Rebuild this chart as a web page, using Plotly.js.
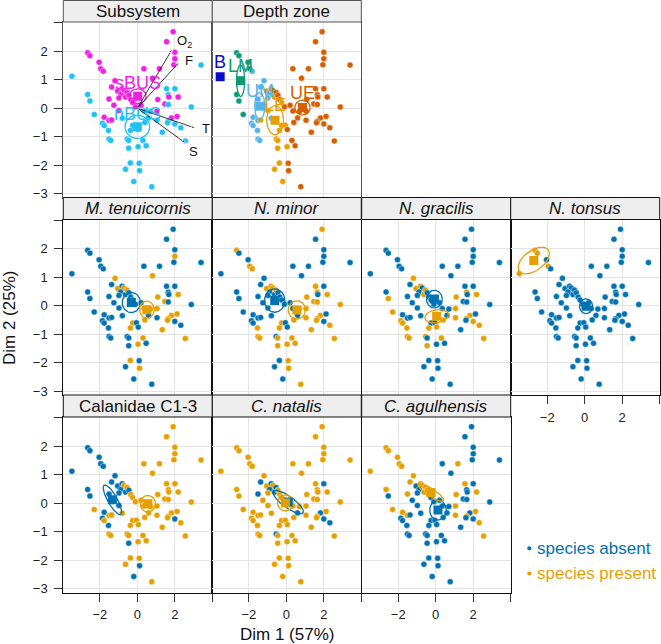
<!DOCTYPE html>
<html>
<head>
<meta charset="utf-8">
<script src="https://cdn.plot.ly/plotly-3.0.1.min.js"></script>
<style>
  html, body { margin: 0; padding: 0; background: #ffffff; }
  #plot { width: 661px; height: 644px; }
</style>
</head>
<body>
<div id="plot"></div>
<script>
// PCA scores of the stations (Dim 1, Dim 2)
const dim1 = [
  1.91, 1.56, 2.00, 2.00, 1.95, 3.40, 0.35, 1.18, 0.81, -2.65,
  -2.53, -2.04, -1.95, -1.82, -3.49, -1.19, -1.37, -1.05, -0.81, -0.72,
  -0.89, -0.63, -2.65, -2.53, -1.51, -0.98, -0.98, -2.30, -1.77, -1.51,
  -1.37, -1.86, -1.77, -1.54, -1.51, -1.42, -0.25, -0.37, -0.54, -0.46,
  -0.46, 0.30, 0.04, 0.47, 0.60, 1.56, 2.00, 1.65, 1.68, 2.18,
  1.09, 1.47, 1.65, 2.88, 1.82, 2.12, 1.65, 1.61, 2.00, 2.32,
  1.33, 2.56, 1.05, -0.37, 0.10, 0.12, -0.63, -0.19, 0.77, -0.55,
  -0.45, -0.35, -0.25, -0.10, 0.20, 0.35, 0.70, 1.05, 0.40, -0.05,
  0.05, -0.80, -1.25
];
const dim2 = [
  2.68, 2.33, 1.96, 1.73, 1.52, 1.51, 1.38, 1.38, 1.05, 1.94,
  1.84, 1.61, 1.38, 1.29, 1.12, 0.96, 0.74, 0.60, 0.68, 0.62,
  0.48, 0.39, 0.48, 0.25, 0.32, 0.36, -0.08, -0.22, -0.32, -0.43,
  -0.41, -0.53, -0.61, -0.78, -1.08, -1.13, -0.61, -0.78, -1.08, -1.13,
  -1.40, -1.13, -1.35, -1.32, -0.34, 0.68, 0.68, 0.47, 0.39, 0.39,
  0.30, 0.15, 0.13, 0.04, -0.34, -0.29, -0.46, -0.51, -0.55, -0.69,
  -0.84, -1.15, -0.42, -1.92, -1.93, -2.19, -2.14, -2.57, -2.75, 0.55,
  0.45, 0.30, 0.20, 0.05, 0.10, -0.10, -0.12, -0.10, -0.50, -0.60,
  -0.75, -0.35, 0.10
];

// Station groupings
const subsystem = [
  's','s','s','s','s','n','s','s','s','s',
  's','s','s','s','n','s','s','s','s','s',
  's','s','n','n','s','s','s','n','s','s',
  's','n','n','n','n','n','n','n','n','n',
  'n','n','n','n','n','n','n','n','s','s',
  's','s','n','n','s','s','n','n','n','n',
  'n','n','n','n','n','n','n','n','n','s',
  's','s','s','s','s','n','n','s','n','n',
  'n','n','s'
];
const depthZone = [
  'UE','UE','UE','UE','UE','UE','UE','UE','UE','LM',
  'LM','LM','LM','UM','B','UM','UM','LE','LE','UE',
  'UM','LE','LM','LM','UM','UM','LE','LM','UM','UM',
  'LE','UM','UM','UM','UM','UM','LE','LE','LE','LE',
  'LE','UE','LE','UE','UE','UE','UE','UE','UE','UE',
  'UE','UE','UE','UE','UE','UE','UE','UE','UE','UE',
  'UE','UE','UE','LE','UE','UE','LE','LE','UE','UE',
  'UE','UE','LE','UE','UE','UE','UE','UE','UE','LE',
  'UE','UM','UM'
];

// Species occurrence at each station (1 = present, 0 = absent)
const mTenuicornis = [
  0,0,0,1,0,0,0,0,1,0, 0,0,0,0,0,1,0,1,0,1, 0,0,0,0,0,0,0,0,0,0,
  0,0,0,0,0,0,1,1,0,0, 0,1,1,0,0,0,0,0,0,1, 1,1,0,0,1,1,1,1,0,0,
  1,1,0,1,0,1,0,0,0,1, 0,0,0,0,0,1,1,1,1,0, 0,0,0
];
const nMinor = [
  1,0,0,0,0,0,0,0,0,1, 0,0,1,1,0,0,0,1,1,1, 0,0,0,0,0,0,0,0,0,0,
  0,0,0,1,1,1,1,1,0,1, 1,1,1,1,0,1,0,1,0,1, 1,1,1,1,1,0,1,1,0,1,
  1,1,1,0,1,1,0,0,1,1, 0,0,0,0,0,0,1,1,1,0, 0,0,0
];
const nGracilis = [
  0,0,0,0,0,0,0,0,0,0, 0,0,0,0,0,1,0,1,1,0, 0,1,0,1,0,0,0,1,0,0,
  0,1,1,1,1,1,0,1,1,0, 1,1,0,0,0,0,0,1,0,1, 1,0,0,0,1,0,1,0,1,1,
  0,1,1,0,0,0,0,0,0,1, 0,0,0,0,0,0,0,1,1,0, 1,0,0
];
const nTonsus = [
  0,0,0,0,0,0,0,0,0,1, 1,0,1,0,1,0,0,0,0,0, 0,0,0,0,0,0,0,0,0,0,
  0,0,0,0,0,0,0,0,0,0, 0,0,0,0,0,0,0,0,0,0, 0,0,0,0,0,0,0,0,0,0,
  0,0,0,0,0,0,0,0,0,0, 0,0,0,0,0,0,0,0,0,0, 0,0,0
];
const calanidaeC13 = [
  1,1,1,1,1,1,1,1,1,0, 0,0,0,0,0,0,0,0,0,1, 0,0,0,0,0,0,0,1,0,1,
  1,0,1,0,1,1,1,1,1,1, 0,1,1,1,1,1,1,1,1,1, 1,1,1,1,1,1,1,1,0,1,
  1,1,1,1,1,0,1,0,1,1, 0,1,1,1,1,1,1,1,1,1, 1,1,0
];
const cNatalis = [
  1,1,1,1,1,1,1,1,1,1, 1,1,1,1,1,1,0,1,0,1, 0,0,1,1,0,1,1,1,1,1,
  1,1,1,1,1,1,1,1,0,1, 1,1,1,1,0,1,0,1,1,1, 1,1,1,1,0,1,1,1,0,0,
  1,1,1,1,1,1,1,1,1,0, 1,1,1,1,1,1,1,1,1,1, 1,1,1
];
const cAgulhensis = [
  0,0,0,0,0,0,0,1,0,1, 1,1,1,1,1,1,1,0,1,1, 0,1,1,0,1,0,0,1,1,1,
  0,0,0,0,0,0,0,0,0,0, 0,0,0,0,0,1,0,0,0,1, 1,0,0,0,0,1,1,0,0,1,
  0,1,1,0,0,0,0,0,0,1, 1,1,0,0,0,0,0,1,0,0, 0,0,0
];

const speciesNames = ['M. tenuicornis', 'N. minor', 'N. gracilis', 'N. tonsus',
                      'Calanidae C1-3', 'C. natalis', 'C. agulhensis'];
const speciesItalic = [true, true, true, true, false, true, true];
const speciesOccurrence = [mTenuicornis, nMinor, nGracilis, nTonsus, calanidaeC13, cNatalis, cAgulhensis];

// Group centroids and confidence ellipses (centre, semi-axes, rotation in degrees)
const absentCx = [-0.32, -0.62, -0.07, 0.07, -1.33, 0.10, 0.12];
const absentCy = [0.11, 0.18, 0.23, -0.02, 0.12, 0.04, -0.24];
const absentA = [0.49, 0.54, 0.42, 0.35, 0.68, 0.88, 0.44];
const absentB = [0.35, 0.41, 0.31, 0.26, 0.22, 0.22, 0.35];
const absentAngle = [0, 0, 0, 0, -47, -24, 0];
const presentCx = [0.51, 0.56, 0.05, -2.72, 0.56, -0.05, -0.25];
const presentCy = [-0.14, -0.15, -0.37, 1.58, -0.02, 0.01, 0.37];
const presentA = [0.39, 0.46, 0.63, 0.88, 0.41, 0.42, 0.72];
const presentB = [0.30, 0.32, 0.23, 0.38, 0.29, 0.28, 0.15];
const presentAngle = [0, 0, 5, 20, 0, 0, -22];

const subGroups = ['s', 'n'];
const subLabels = ['sBUS', 'nBUS'];
const subCx = [0.02, 0.00];
const subCy = [0.42, -0.65];
const subA = [0.45, 0.66];
const subB = [0.26, 0.41];

const depthGroups = ['B', 'LM', 'UM', 'LE', 'UE'];
const depthCx = [-3.53, -2.44, -1.42, -0.60, 0.86];
const depthCy = [1.10, 0.96, 0.07, -0.42, 0.02];
const depthA = [0, 0.22, 0.27, 0.45, 0.41];
const depthB = [0, 0.55, 0.48, 0.51, 0.26];

// Environmental vectors on the Subsystem biplot
const envNames = ['O<sub>2</sub>', 'F', 'T', 'S'];
const envX = [1.88, 2.26, 3.14, 2.61];
const envY = [2.09, 1.63, -0.71, -1.24];

const xTickVals = [-2, 0, 2, 4];
const xTickText = ['\u22122', '0', '2', ''];
const yTickVals = [-3, -2, -1, 0, 1, 2, 3];
const yTickText = ['\u22123', '\u22122', '\u22121', '0', '1', '2', ''];

// ---- styling ----
const FONT = 'Liberation Sans, Arial, Helvetica, sans-serif';
const ABSENT = '#0072B2';
const PRESENT = '#E69F00';
const subColors = { s: '#F01FE4', n: '#1EC1F0' };
const depthColors = { B: '#0B0BCC', LM: '#0E9A72', UM: '#56B4E9', LE: '#E69F00', UE: '#D55E00' };

const W = 661, H = 644;
const colLeft = [63.3, 212.3, 361.7, 510.7];
const colWidth = 149;
const headTop = [0.5, 197.5, 395];
const plotTop = [22, 219.5, 417];
const plotBottom = [197.5, 395, 592.5];
const XR = [-3.95, 4.0];
const YR = [-3.13, 3.02];

const px = v => v / W;
const py = v => 1 - v / H;

// panel: [title, italic, col, row, xticks, yticks, borderColor]
const panels = [
  ['Subsystem', false, 0, 0, false, true, '#555555'],
  ['Depth zone', false, 1, 0, false, false, '#555555'],
];
speciesNames.forEach((n, i) => {
  const pos = [[0,1],[1,1],[2,1],[3,1],[0,2],[1,2],[2,2]][i];
  const xt = (i === 3 || i >= 4);
  panels.push([n, speciesItalic[i], pos[0], pos[1], xt, pos[0] === 0, '#111111']);
});

function ellipseXY(cx, cy, a, b, angDeg) {
  const th = angDeg * Math.PI / 180;
  const xs = [], ys = [];
  for (let i = 0; i <= 90; i++) {
    const t = i / 90 * 2 * Math.PI;
    xs.push(cx + a * Math.cos(th) * Math.cos(t) - b * Math.sin(th) * Math.sin(t));
    ys.push(cy + a * Math.sin(th) * Math.cos(t) + b * Math.cos(th) * Math.sin(t));
  }
  return [xs, ys];
}

const traces = [];
const layout = {
  width: W, height: H,
  margin: { l: 0, r: 0, t: 0, b: 0 },
  paper_bgcolor: '#ffffff',
  plot_bgcolor: '#ffffff',
  showlegend: false,
  font: { family: FONT, color: '#222222' },
  shapes: [],
  annotations: []
};

panels.forEach((p, k) => {
  const [title, italic, col, row, showX, showY, border] = p;
  const xa = k === 0 ? 'x' : 'x' + (k + 1);
  const ya = k === 0 ? 'y' : 'y' + (k + 1);
  const xkey = k === 0 ? 'xaxis' : 'xaxis' + (k + 1);
  const ykey = k === 0 ? 'yaxis' : 'yaxis' + (k + 1);
  const l = colLeft[col], r = colLeft[col] + colWidth;
  layout[xkey] = {
    domain: [px(l), px(r)], range: XR, anchor: ya,
    tickmode: 'array', tickvals: xTickVals, ticktext: xTickText,
    showgrid: true, gridcolor: '#E4E4E4', gridwidth: 1, zeroline: false,
    showline: true, mirror: true, linecolor: border, linewidth: 1,
    ticks: showX ? 'outside' : '', ticklen: 8, tickcolor: '#333333', tickwidth: 1,
    showticklabels: showX, tickfont: { family: FONT, size: 13, color: '#222222' },
    ticklabelstandoff: 2, fixedrange: true
  };
  layout[ykey] = {
    domain: [py(plotBottom[row]), py(plotTop[row])], range: YR, anchor: xa,
    tickmode: 'array', tickvals: yTickVals, ticktext: yTickText,
    showgrid: true, gridcolor: '#E4E4E4', gridwidth: 1, zeroline: false,
    showline: true, mirror: true, linecolor: border, linewidth: 1,
    ticks: showY ? 'outside' : '', ticklen: 8, tickcolor: '#333333', tickwidth: 1,
    showticklabels: showY, tickfont: { family: FONT, size: 13, color: '#222222' },
    ticklabelstandoff: 4, fixedrange: true
  };
  // strip header
  layout.shapes.push({
    type: 'rect', xref: 'paper', yref: 'paper',
    x0: px(l), x1: px(r), y0: py(plotTop[row]), y1: py(headTop[row]),
    fillcolor: '#EEEEEE', line: { color: border, width: 1 }, layer: 'above'
  });
  layout.annotations.push({
    xref: 'paper', yref: 'paper', x: px((l + r) / 2), y: py((headTop[row] + plotTop[row]) / 2 + 0.5),
    text: italic ? '<i>' + title + '</i>' : title, showarrow: false,
    xanchor: 'center', yanchor: 'middle', font: { family: FONT, size: 17, color: '#111111' }
  });

  const dot = (colors) => ({
    type: 'scatter', mode: 'markers', x: dim1, y: dim2, xaxis: xa, yaxis: ya,
    marker: { size: 6, color: colors, line: { color: '#ffffff', width: 0.4 } },
    hoverinfo: 'skip'
  });
  const ring = (cx, cy, a, b, ang, color) => {
    const [ex, ey] = ellipseXY(cx, cy, a, b, ang);
    return { type: 'scatter', mode: 'lines', x: ex, y: ey, xaxis: xa, yaxis: ya,
             line: { color: color, width: 1.3 }, hoverinfo: 'skip' };
  };
  const square = (cx, cy, color) => ({
    type: 'scatter', mode: 'markers', x: [cx], y: [cy], xaxis: xa, yaxis: ya,
    marker: { symbol: 'square', size: 9, color: color }, hoverinfo: 'skip'
  });

  if (k === 0) {
    traces.push(dot(subsystem.map(s => subColors[s])));
    subGroups.forEach((g, i) => {
      traces.push(ring(subCx[i], subCy[i], subA[i], subB[i], 0, subColors[g]));
      traces.push(square(subCx[i], subCy[i], subColors[g]));
      layout.annotations.push({
        xref: xa, yref: ya, x: subCx[i], y: subCy[i], yshift: 1, text: subLabels[i],
        showarrow: false, xanchor: 'center', yanchor: 'bottom',
        font: { family: FONT, size: 18, color: subColors[g] }
      });
    });
    // vectors from the origin, with an arrowhead turned along each segment
    envNames.forEach((n, i) => {
      traces.push({
        type: 'scatter', mode: 'lines+markers', x: [0, envX[i]], y: [0, envY[i]],
        xaxis: xa, yaxis: ya, cliponaxis: false,
        line: { color: '#222222', width: 0.9 },
        marker: { symbol: 'arrow', angleref: 'previous', size: [0, 5], color: '#222222' },
        hoverinfo: 'skip'
      });
      const shifts = [[2, 7], [3, 1], [4, 0], [1, -8]][i];
      layout.annotations.push({
        xref: xa, yref: ya, x: envX[i], y: envY[i], xshift: shifts[0], yshift: shifts[1],
        text: n, showarrow: false, xanchor: 'left', yanchor: 'middle',
        font: { family: FONT, size: 13, color: '#111111' }
      });
    });
  } else if (k === 1) {
    traces.push(dot(depthZone.map(d => depthColors[d])));
    depthGroups.forEach((g, i) => {
      if (depthA[i] > 0) traces.push(ring(depthCx[i], depthCy[i], depthA[i], depthB[i], 0, depthColors[g]));
      traces.push(square(depthCx[i], depthCy[i], depthColors[g]));
      layout.annotations.push({
        xref: xa, yref: ya, x: depthCx[i], y: depthCy[i], yshift: 3, text: g,
        showarrow: false, xanchor: 'center', yanchor: 'bottom',
        font: { family: FONT, size: 18, color: depthColors[g] }
      });
    });
  } else {
    const s = k - 2;
    const occ = speciesOccurrence[s];
    traces.push(dot(occ.map(v => v ? PRESENT : ABSENT)));
    traces.push(ring(absentCx[s], absentCy[s], absentA[s], absentB[s], absentAngle[s], ABSENT));
    traces.push(ring(presentCx[s], presentCy[s], presentA[s], presentB[s], presentAngle[s], PRESENT));
    traces.push(square(absentCx[s], absentCy[s], ABSENT));
    traces.push(square(presentCx[s], presentCy[s], PRESENT));
  }
});

// legend
[['species absent', ABSENT, 548.3], ['species present', PRESENT, 573.5]].forEach(([t, c, yy]) => {
  layout.shapes.push({
    type: 'circle', xref: 'paper', yref: 'paper',
    x0: px(527.2), x1: px(531.4), y0: py(yy + 2.1), y1: py(yy - 2.1),
    fillcolor: c, line: { width: 0 }
  });
  layout.annotations.push({
    xref: 'paper', yref: 'paper', x: px(535), y: py(yy), text: t, showarrow: false,
    xanchor: 'left', yanchor: 'middle', font: { family: FONT, size: 17, color: c }
  });
});

// axis titles
layout.annotations.push({
  xref: 'paper', yref: 'paper', x: px(286.7), y: py(634), text: 'Dim 1 (57%)',
  showarrow: false, xanchor: 'center', yanchor: 'middle',
  font: { family: FONT, size: 17, color: '#111111' }
});
layout.annotations.push({
  xref: 'paper', yref: 'paper', x: px(9), y: py(318), text: 'Dim 2 (25%)',
  showarrow: false, xanchor: 'center', yanchor: 'middle', textangle: -90,
  font: { family: FONT, size: 17, color: '#111111' }
});

Plotly.newPlot('plot', traces, layout, { displayModeBar: false, staticPlot: true });
</script>
</body>
</html>
